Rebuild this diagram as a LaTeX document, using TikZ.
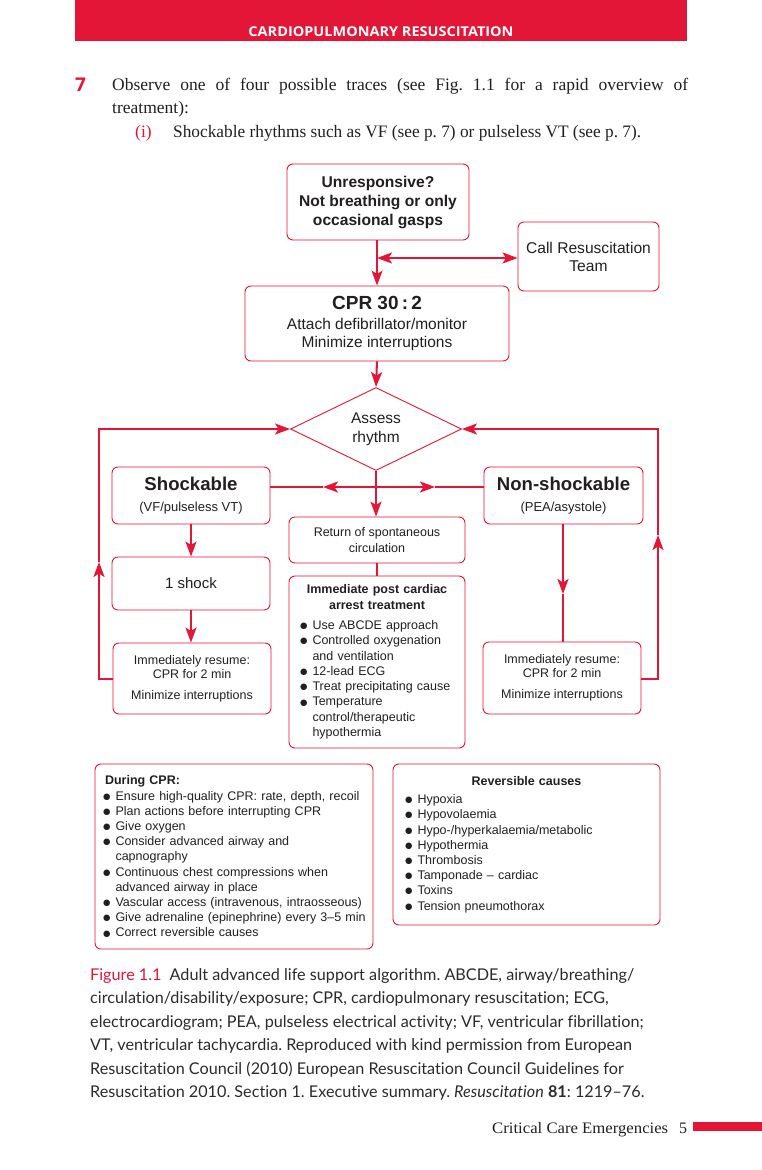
\documentclass[tikz,border=0pt]{standalone}
\usepackage{fontspec}
\usepackage{graphicx}
\usetikzlibrary{shapes.geometric,arrows.meta,calc}
\setmainfont{Liberation Serif}
\newfontfamily\flowfont{Liberation Sans}
\newfontfamily\capfont[Ligatures=NoCommon]{Lato}
\newfontfamily\headfont{Open Sans}
\newfontfamily\symfont{DejaVu Sans}
\definecolor{cpred}{RGB}{228,22,55}
\definecolor{inkc}{RGB}{35,31,32}
\definecolor{capc}{RGB}{45,42,43}
\newcommand{\fitw}[2]{\resizebox{#1}{\height}{#2}}
\newcommand{\bul}{\makebox[12.5pt][l]{\raisebox{0.9pt}{\symfont\fontsize{8.5}{10}\selectfont ●}}}
\newcommand{\ind}{\hspace*{12.5pt}}
\frenchspacing
\begin{document}
\begin{tikzpicture}[x=1pt,y=-1pt,
  box/.style={draw=cpred, line width=0.9pt, rounded corners=6pt, inner sep=0pt,
              align=center, text=inkc},
  conn/.style={draw=cpred, line width=2pt},
  tip/.style={-{Stealth[length=15pt,width=11pt,inset=3.5pt]}},
  twotip/.style={{Stealth[length=15pt,width=11pt,inset=3.5pt]}-{Stealth[length=15pt,width=11pt,inset=3.5pt]}},
  txt/.style={inner sep=0pt, anchor=base west, text=inkc}]
\useasboundingbox (0,0) rectangle (762,1170);
\fill[white] (0,0) rectangle (762,1170);

% header
\fill[cpred] (75,0) rectangle (687,41);
\node[inner sep=0pt, anchor=base, text=white] (head) at (381,36)
  {\headfont\bfseries\fontsize{13.5}{14}\selectfont\fitw{265pt}{CARDIOPULMONARY RESUSCITATION}};

% body text
\node[txt, text=cpred] (seven) at (75,91) {\headfont\bfseries\fontsize{19}{20}\selectfont 7};
\node[txt] (l1) at (112,90) {\fontsize{17.5}{20}\selectfont\makebox[576pt][s]{Observe one of four possible traces (see Fig. 1.1 for a rapid overview of}};
\node[txt] (l2) at (112,113) {\fontsize{17.5}{20}\selectfont treatment):};
\node[txt, text=cpred] (iii) at (135,137) {\fontsize{17.5}{20}\selectfont (i)};
\node[txt] (l3) at (173,137) {\fontsize{17.5}{20}\selectfont\fitw{468pt}{Shockable rhythms such as VF (see p. 7) or pulseless VT (see p. 7).}};

% flowchart
\node[box, minimum width=182pt, minimum height=76pt, font=\flowfont\bfseries\fontsize{15.6}{19}\selectfont]
  (unresp) at (378,202) {Unresponsive?\\Not breathing or only\\occasional gasps};
\node[box, minimum width=141pt, minimum height=69pt, font=\flowfont\fontsize{15.6}{18}\selectfont]
  (call) at (588.5,256.5) {Call Resuscitation\\Team};
\node[box, minimum width=264pt, minimum height=75pt, font=\flowfont\fontsize{15.5}{18}\selectfont]
  (cpr) at (377,323.5) {{\bfseries\fontsize{19}{20}\selectfont CPR 30\,:\,2}\\[2pt]Attach defibrillator/monitor\\Minimize interruptions};
\node[diamond, draw=cpred, line width=0.9pt, minimum width=171pt, minimum height=83pt, inner sep=0pt,
  align=center, text=inkc, font=\flowfont\fontsize{15.5}{19}\selectfont]
  (assess) at (376,429) {Assess\\rhythm};
\node[box, minimum width=158pt, minimum height=57pt, font=\flowfont\fontsize{13}{21}\selectfont]
  (shock) at (191,495.5) {{\bfseries\fontsize{18.6}{20}\selectfont Shockable}\\(VF/pulseless VT)};
\node[box, minimum width=159pt, minimum height=57pt, font=\flowfont\fontsize{13}{21}\selectfont]
  (nonshock) at (563.5,495.5) {{\bfseries\fontsize{18.6}{20}\selectfont Non-shockable}\\(PEA/asystole)};
\node[box, minimum width=158pt, minimum height=53pt, font=\flowfont\fontsize{15}{18}\selectfont]
  (oneshock) at (191,583.5) {1 shock};
\node[box, minimum width=158pt, minimum height=71pt, font=\flowfont\fontsize{12.5}{14}\selectfont]
  (resL) at (192,678.5) {Immediately resume:\\CPR for 2 min\\[7pt]Minimize interruptions};
\node[box, minimum width=158pt, minimum height=72pt, font=\flowfont\fontsize{12.5}{14}\selectfont]
  (resR) at (562,678) {Immediately resume:\\CPR for 2 min\\[7pt]Minimize interruptions};
\node[box, minimum width=176pt, minimum height=46pt, font=\flowfont\fontsize{12.5}{15.5}\selectfont]
  (rosc) at (377,540) {Return of spontaneous\\circulation};
\node[box, minimum width=176pt, minimum height=172pt, text width=154pt, align=left,
  font=\flowfont\fontsize{12.5}{15.3}\selectfont]
  (post) at (377,662) {\makebox[154pt][c]{\bfseries Immediate post cardiac}\\
  \makebox[154pt][c]{\bfseries arrest treatment}\\[5pt]
  \bul Use ABCDE approach\\
  \bul Controlled oxygenation\\
  \ind and ventilation\\
  \bul 12-lead ECG\\
  \bul Treat precipitating cause\\
  \bul Temperature\\
  \ind control/therapeutic\\
  \ind hypothermia};

% connectors
\coordinate (j1) at (377,258);
\draw[conn, tip] (unresp.south -| j1) -- (cpr.north -| j1);
\draw[conn, twotip] (j1) -- (call.west |- j1);
\draw[conn, tip] (cpr.south -| j1) -- (assess.north);
\draw[conn, tip] (assess.south) -- (rosc.north -| assess.south);
\coordinate (j2) at (376,487);
\coordinate (hl) at (323,487);
\coordinate (hr) at (435,487);
\draw[conn, tip] (j2) -- (hl);
\draw[conn] (hl) -- (shock.east |- j2);
\draw[conn, tip] (j2) -- (hr);
\draw[conn] (hr) -- (nonshock.west |- j2);
\draw[conn, tip] (shock.south) -- (oneshock.north);
\draw[conn, tip] (oneshock.south) -- (resL.north -| oneshock.south);
\draw[conn] (rosc.south) -- (post.north);
\coordinate (nsm) at (563,594);
\draw[conn, tip] (nonshock.south -| nsm) -- (nsm);
\draw[conn] (nsm) -- (resR.north -| nsm);
% loops
\coordinate (lb) at (99,679);
\coordinate (lm) at (99,562);
\coordinate (lt) at (99,429);
\draw[conn, tip] (resL.west |- lb) -- (lb) -- (lm);
\draw[conn, tip] (lm) -- (lt) -- (assess.west);
\coordinate (rb) at (658,679);
\coordinate (rm) at (658,535);
\coordinate (rt) at (658,429);
\draw[conn, tip] (resR.east |- rb) -- (rb) -- (rm);
\draw[conn, tip] (rm) -- (rt) -- (assess.east);

% bottom boxes
\node[box, minimum width=278pt, minimum height=185pt, text width=262pt, align=left,
  font=\flowfont\fontsize{12.5}{15.2}\selectfont]
  (during) at (234,856.5) {\hspace*{2pt}{\bfseries During CPR:}\\
  \mbox{\bul Ensure high-quality CPR: rate, depth, recoil}\\
  \bul Plan actions before interrupting CPR\\
  \bul Give oxygen\\
  \bul Consider advanced airway and\\
  \ind capnography\\
  \bul Continuous chest compressions when\\
  \ind advanced airway in place\\
  \mbox{\bul Vascular access (intravenous, intraosseous)}\\
  \mbox{\bul Give adrenaline (epinephrine) every 3–5 min}\\
  \bul Correct reversible causes};
\node[box, minimum width=267pt, minimum height=161pt, text width=243pt, align=left,
  font=\flowfont\fontsize{12.5}{15.2}\selectfont]
  (revers) at (526.5,844.5) {\makebox[243pt][c]{\bfseries Reversible causes}\\[3pt]
  \bul Hypoxia\\
  \bul Hypovolaemia\\
  \bul Hypo-/hyperkalaemia/metabolic\\
  \bul Hypothermia\\
  \bul Thrombosis\\
  \bul Tamponade – cardiac\\
  \bul Toxins\\
  \bul Tension pneumothorax};

% caption
\begin{scope}[every node/.style={txt, text=capc, font=\capfont\fontsize{16.2}{18}\selectfont}]
\node (c1) at (90,980)  {\textcolor{cpred}{Figure 1.1}\enspace Adult advanced life support algorithm. ABCDE, airway/breathing/};
\node (c2) at (90,1003.5) {circulation/disability/exposure; CPR, cardiopulmonary resuscitation; ECG,};
\node (c3) at (90,1027) {electrocardiogram; PEA, pulseless electrical activity; VF, ventricular fibrillation;};
\node (c4) at (90,1050.5) {VT, ventricular tachycardia. Reproduced with kind permission from European};
\node (c5) at (90,1074) {Resuscitation Council (2010) European Resuscitation Council Guidelines for};
\node (c6) at (90,1097.5) {Resuscitation 2010. Section 1. Executive summary. \textit{Resuscitation} \textbf{81}: 1219–76.};
\end{scope}

% footer
\node[txt] (foot) at (492,1133) {\fontsize{16}{18}\selectfont\fitw{176pt}{Critical Care Emergencies}};
\node[txt] (pnum) at (679,1133) {\fontsize{16}{18}\selectfont 5};
\fill[cpred] (693,1122) rectangle (762,1131);
\end{tikzpicture}
\end{document}
